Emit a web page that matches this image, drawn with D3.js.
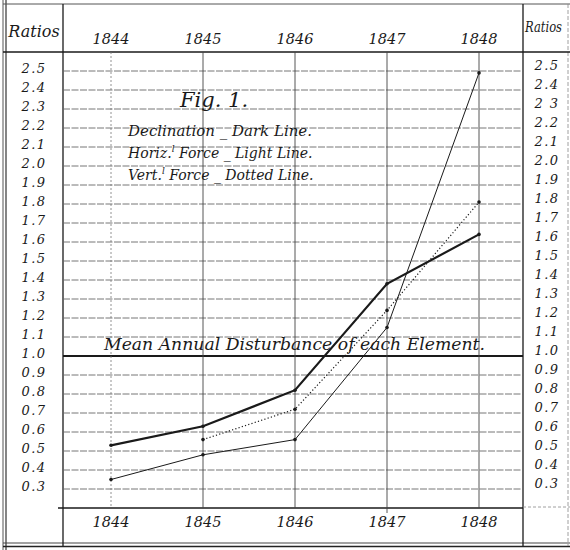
<!DOCTYPE html>
<html><head><meta charset="utf-8">
<script src="https://cdn.jsdelivr.net/npm/d3@7"></script>
<style>body{margin:0;background:#fff}svg{display:block}svg text{font-family:"DejaVu Serif",serif;font-style:italic}</style>
</head><body>
<script>
const years = [1844, 1845, 1846, 1847, 1848];
const yearLabels = ["1844", "1845", "1846", "1847", "1848"];
const declination = [0.53, 0.63, 0.82, 1.38, 1.64];
const horizontalForce = [0.35, 0.48, 0.56, 1.15, 2.49];
const verticalForce = [null, 0.56, 0.72, 1.24, 1.81];
const ratioTicks = [2.5, 2.4, 2.3, 2.2, 2.1, 2.0, 1.9, 1.8, 1.7, 1.6, 1.5, 1.4, 1.3, 1.2, 1.1, 1.0, 0.9, 0.8, 0.7, 0.6, 0.5, 0.4, 0.3];
const leftTickLabels = ["2.5","2.4","2.3","2.2","2.1","2.0","1.9","1.8","1.7","1.6","1.5","1.4","1.3","1.2","1.1","1.0","0.9","0.8","0.7","0.6","0.5","0.4","0.3"];
const rightTickLabels = ["2.5","2.4","2 3","2.2","2.1","2.0","1.9","1.8","1.7","1.6","1.5","1.4","1.3","1.2","1.1","1.0","0.9","0.8","0.7","0.6","0.5","0.4","0.3"];

const W = 570, H = 550;
const svg = d3.select("body").append("svg").attr("width", W).attr("height", H);

const x = d3.scaleLinear().domain([1844, 1848]).range([111, 479]);
const y = d3.scaleLinear().domain([0.3, 2.5]).range([489, 71]);

const plotL = 63, plotR = 523, headB = 52, axisY = 508;
const ink = "#1a1a1a";

// frame
const frame = svg.append("g").attr("fill", "none");
frame.append("line").attr("x1", 3).attr("x2", 3).attr("y1", 0).attr("y2", H).attr("stroke", "#555").attr("stroke-width", 1);
frame.append("line").attr("x1", 6).attr("x2", 6).attr("y1", 0).attr("y2", H).attr("stroke", "#333").attr("stroke-width", 1.2);
frame.append("line").attr("x1", 3).attr("x2", W).attr("y1", 4).attr("y2", 4).attr("stroke", "#555").attr("stroke-width", 1);
frame.append("line").attr("x1", 3).attr("x2", W).attr("y1", 543).attr("y2", 543).attr("stroke", "#444").attr("stroke-width", 1);
frame.append("line").attr("x1", 3).attr("x2", W).attr("y1", 546.5).attr("y2", 546.5).attr("stroke", "#222").attr("stroke-width", 1.5);
frame.append("line").attr("x1", plotL).attr("x2", plotL).attr("y1", 4).attr("y2", 546).attr("stroke", ink).attr("stroke-width", 1.3);
frame.append("line").attr("x1", plotR).attr("x2", plotR).attr("y1", 4).attr("y2", 546).attr("stroke", ink).attr("stroke-width", 1.3);
frame.append("line").attr("x1", 568).attr("x2", 568).attr("y1", 4).attr("y2", 546).attr("stroke", "#888").attr("stroke-width", 0.8).attr("stroke-dasharray", "4,2");
frame.append("line").attr("x1", 3).attr("x2", W).attr("y1", headB).attr("y2", headB).attr("stroke", ink).attr("stroke-width", 1.4);
frame.append("line").attr("x1", 58).attr("x2", plotR).attr("y1", axisY).attr("y2", axisY).attr("stroke", ink).attr("stroke-width", 1.4);
frame.append("line").attr("x1", plotR).attr("x2", W).attr("y1", axisY - 1).attr("y2", axisY - 1).attr("stroke", "#888").attr("stroke-width", 0.8).attr("stroke-dasharray", "3,2");

// horizontal grid
svg.append("g").selectAll("line").data(ratioTicks).join("line")
  .attr("x1", plotL).attr("x2", plotR)
  .attr("y1", d => y(d)).attr("y2", d => y(d))
  .attr("stroke", d => d === 1.0 ? ink : "#666")
  .attr("stroke-width", d => d === 1.0 ? 2 : 0.9)
  .attr("stroke-dasharray", d => d === 1.0 ? null : "7,1.5");

// vertical year lines
svg.append("g").selectAll("line").data(years).join("line")
  .attr("x1", d => x(d)).attr("x2", d => x(d))
  .attr("y1", headB).attr("y2", d => d === 1847 ? axisY + 5 : axisY)
  .attr("stroke", (d, i) => i === 0 ? "#777" : "#444")
  .attr("stroke-width", (d, i) => i === 0 ? 0.8 : 0.9)
  .attr("stroke-dasharray", (d, i) => i === 0 ? "2,2" : null);

// ratio labels
svg.append("g").selectAll("text").data(ratioTicks).join("text")
  .attr("x", 34).attr("y", d => y(d) - 2)
  .attr("text-anchor", "middle").attr("dominant-baseline", "middle")
  .attr("font-size", 13).attr("fill", ink).attr("letter-spacing", 1.5)
  .text((d, i) => leftTickLabels[i]);
svg.append("g").selectAll("text").data(ratioTicks).join("text")
  .attr("x", 547).attr("y", d => y(d) - 5)
  .attr("text-anchor", "middle").attr("dominant-baseline", "middle")
  .attr("font-size", 13).attr("fill", ink).attr("letter-spacing", 1.5)
  .text((d, i) => rightTickLabels[i]);

svg.append("text").attr("x", 34).attr("y", 37).attr("text-anchor", "middle")
  .attr("font-size", 16).attr("fill", ink).text("Ratios");
svg.append("text").attr("x", 525).attr("y", 32).attr("text-anchor", "start")
  .attr("font-size", 14).attr("fill", ink)
  .attr("textLength", 37).attr("lengthAdjust", "spacingAndGlyphs").text("Ratios");

// year labels
svg.append("g").selectAll("text").data(years).join("text")
  .attr("x", d => x(d)).attr("y", 44).attr("text-anchor", "middle")
  .attr("font-size", 14.5).attr("fill", ink).text((d, i) => yearLabels[i]);
svg.append("g").selectAll("text").data(years).join("text")
  .attr("x", d => x(d)).attr("y", 527).attr("text-anchor", "middle")
  .attr("font-size", 14.5).attr("fill", ink).text((d, i) => yearLabels[i]);

// annotations
svg.append("text").attr("x", 214).attr("y", 107).attr("text-anchor", "middle")
  .attr("font-size", 21).attr("fill", ink).text("Fig. 1.");
const leg = svg.append("g").attr("font-size", 14).attr("fill", ink);
leg.append("text").attr("x", 128).attr("y", 136).attr("textLength", 184).attr("lengthAdjust", "spacingAndGlyphs").text("Declination _ Dark Line.");
const t2 = leg.append("text").attr("x", 128).attr("y", 158);
t2.append("tspan").text("Horiz.");
t2.append("tspan").attr("dy", -6).attr("font-size", 9).text("l");
t2.append("tspan").attr("dy", 6).text(" Force _ Light Line.");
const t3 = leg.append("text").attr("x", 128).attr("y", 180);
t3.append("tspan").text("Vert.");
t3.append("tspan").attr("dy", -6).attr("font-size", 9).text("l");
t3.append("tspan").attr("dy", 6).text(" Force _ Dotted Line.");

svg.append("text").attr("x", 104).attr("y", 350).attr("font-size", 17).attr("fill", ink)
  .attr("textLength", 381).attr("lengthAdjust", "spacingAndGlyphs")
  .text("Mean Annual Disturbance of each Element.");

// series
const line = d3.line().defined(d => d[1] != null).x(d => x(d[0])).y(d => y(d[1]));
const series = [
  {vals: horizontalForce, w: 1, dash: null},
  {vals: verticalForce, w: 1.2, dash: "1.2,2.2"},
  {vals: declination, w: 2.2, dash: null}
];
series.forEach(s => {
  const pts = years.map((yr, i) => [yr, s.vals[i]]);
  svg.append("path").datum(pts).attr("d", line).attr("fill", "none")
    .attr("stroke", ink).attr("stroke-width", s.w).attr("stroke-dasharray", s.dash);
  svg.append("g").selectAll("circle").data(pts.filter(p => p[1] != null)).join("circle")
    .attr("cx", p => x(p[0])).attr("cy", p => y(p[1])).attr("r", 1.8).attr("fill", ink);
});
</script>
</body></html>
